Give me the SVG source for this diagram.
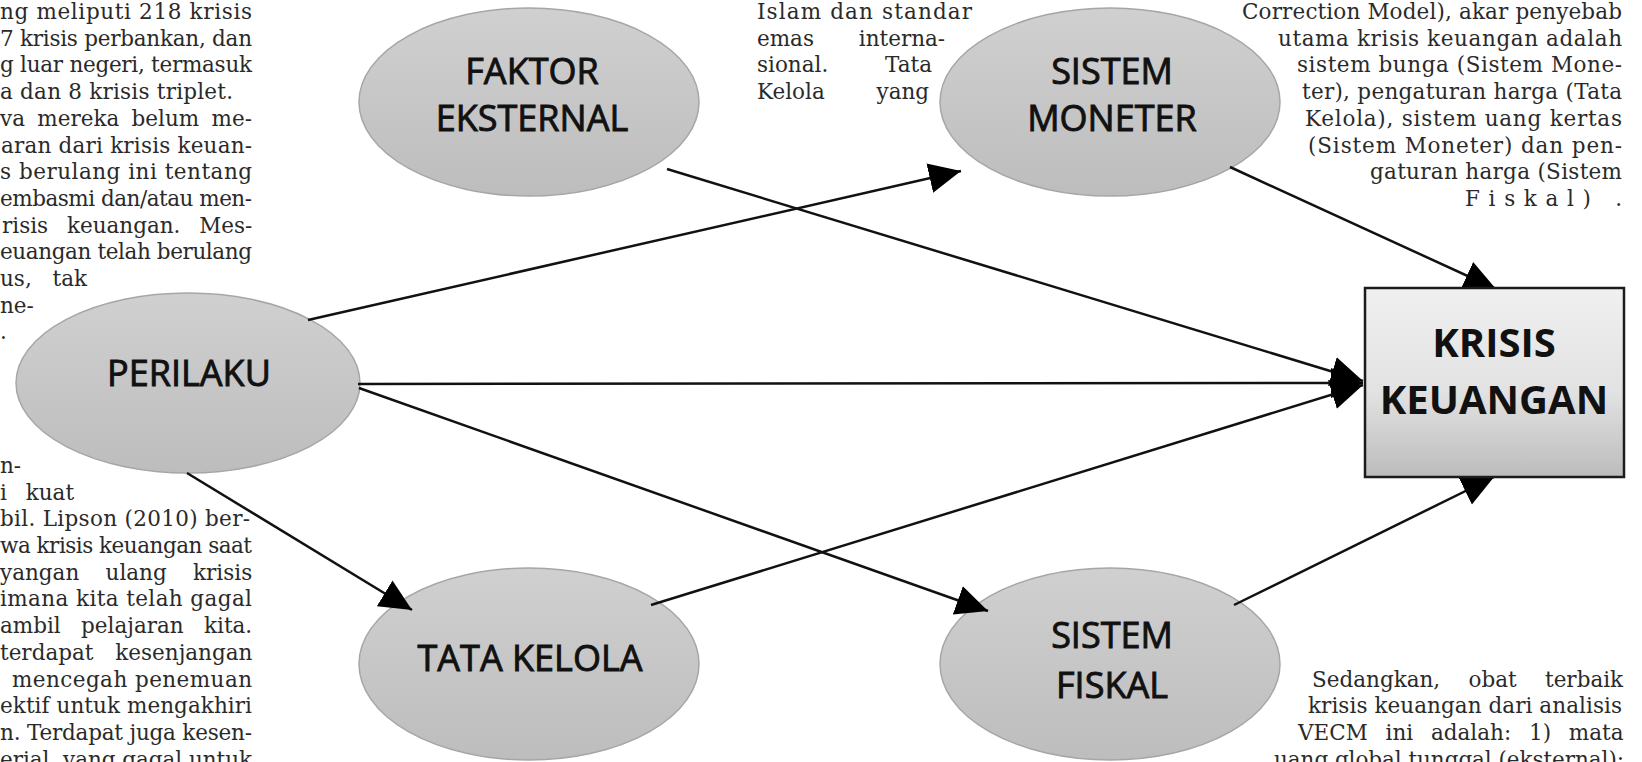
<svg xmlns="http://www.w3.org/2000/svg" width="1642" height="762" viewBox="0 0 1642 762">
<style>
.t{font-family:"DejaVu Serif","Liberation Serif",serif;font-size:21.5px;fill:#2a2a2a}
.lbl{font-family:"Open Sans","Liberation Sans",sans-serif;font-size:36px;fill:#111;stroke:#111;stroke-width:0.9;text-anchor:middle}
.blbl{font-family:"Open Sans","Liberation Sans",sans-serif;font-size:40px;font-weight:bold;fill:#111;text-anchor:middle}
.ell{fill:url(#eg);stroke:#a6a6a6;stroke-width:1.5}
.con{stroke:#111;stroke-width:2.5;fill:none;marker-end:url(#ah)}
</style>
<defs>
<linearGradient id="eg" x1="0" y1="0" x2="0" y2="1">
<stop offset="0" stop-color="#d0d0d0"/>
<stop offset="1" stop-color="#bdbdbd"/>
</linearGradient>
<linearGradient id="rg" x1="0" y1="0" x2="0" y2="1">
<stop offset="0" stop-color="#f0f0f0"/>
<stop offset="0.55" stop-color="#e2e2e2"/>
<stop offset="1" stop-color="#bcbcbc"/>
</linearGradient>
<marker id="ah" markerUnits="userSpaceOnUse" viewBox="0 0 34 32" markerWidth="34" markerHeight="32" refX="32" refY="16" orient="auto">
<path d="M0,1 L32,16 L0,31 z" fill="#000"/>
</marker>
</defs>
<rect width="1642" height="762" fill="#fff"/>

<g id="text-left">
<text class="t" x="0" y="19" textLength="252" lengthAdjust="spacing">ng meliputi 218 krisis</text>
<text class="t" x="0" y="45.7" textLength="252" lengthAdjust="spacing">7 krisis perbankan,  dan</text>
<text class="t" x="0" y="72.4" textLength="252" lengthAdjust="spacing">g luar negeri, termasuk</text>
<text class="t" x="0" y="99.1" textLength="233" lengthAdjust="spacing">a dan 8 krisis triplet.</text>
<text class="t" x="0" y="125.8" word-spacing="5.5">va mereka belum me-</text>
<text class="t" x="1" y="152.5" textLength="251" lengthAdjust="spacing">aran dari krisis keuan-</text>
<text class="t" x="0" y="179.2" textLength="252" lengthAdjust="spacing">s berulang ini tentang</text>
<text class="t" x="0" y="205.9" textLength="252" lengthAdjust="spacing">embasmi dan/atau men-</text>
<text class="t" x="2" y="232.6" word-spacing="12">risis keuangan. Mes-</text>
<text class="t" x="0" y="259.3" textLength="252" lengthAdjust="spacing">euangan telah berulang</text>
<text class="t" x="0" y="286" word-spacing="14">us, tak</text>
<text class="t" x="0" y="312.7">ne-</text>
<text class="t" x="0" y="339.4">.</text>
<text class="t" x="0" y="472.9">n-</text>
<text class="t" x="0" y="499.6" word-spacing="12">i kuat</text>
<text class="t" x="0" y="526.3" textLength="250" lengthAdjust="spacing">bil. Lipson (2010) ber-</text>
<text class="t" x="0" y="553" textLength="252" lengthAdjust="spacing">wa krisis keuangan saat</text>
<text class="t" x="0" y="579.7" word-spacing="19.5">yangan ulang krisis</text>
<text class="t" x="0" y="606.4" textLength="252" lengthAdjust="spacing">imana kita telah gagal</text>
<text class="t" x="0" y="633.1" word-spacing="13.5">ambil pelajaran kita.</text>
<text class="t" x="0" y="659.8" word-spacing="15">terdapat kesenjangan</text>
<text class="t" x="12" y="686.5" textLength="240" lengthAdjust="spacing">mencegah penemuan</text>
<text class="t" x="0" y="713.2" textLength="252" lengthAdjust="spacing">ektif untuk mengakhiri</text>
<text class="t" x="0" y="739.9" textLength="252" lengthAdjust="spacing">n. Terdapat juga kesen-</text>
<text class="t" x="0" y="766.6" textLength="252" lengthAdjust="spacing">erial, yang gagal untuk</text>
</g>

<g id="text-middle">
<text class="t" x="757" y="19" textLength="215" lengthAdjust="spacing">Islam dan standar</text>
<text class="t" x="757" y="45.7" word-spacing="38">emas interna-</text>
<text class="t" x="757" y="72.4" word-spacing="50">sional. Tata</text>
<text class="t" x="757" y="99.1" word-spacing="45">Kelola yang</text>
</g>

<g id="text-right">
<text class="t" x="1242" y="19" textLength="380" lengthAdjust="spacing">Correction Model), akar penyebab</text>
<text class="t" x="1278" y="45.7" textLength="344" lengthAdjust="spacing">utama krisis keuangan adalah</text>
<text class="t" x="1297" y="72.4" textLength="325" lengthAdjust="spacing">sistem bunga (Sistem Mone-</text>
<text class="t" x="1302" y="99.1" textLength="320" lengthAdjust="spacing">ter), pengaturan harga (Tata</text>
<text class="t" x="1305" y="125.8" textLength="317" lengthAdjust="spacing">Kelola), sistem uang kertas</text>
<text class="t" x="1308" y="152.5" textLength="314" lengthAdjust="spacing">(Sistem Moneter) dan pen-</text>
<text class="t" x="1370" y="179.2" textLength="252" lengthAdjust="spacing">gaturan harga (Sistem</text>
<text class="t" x="1465" y="205.9" textLength="157" lengthAdjust="spacing">Fiskal) .</text>
<text class="t" x="1312" y="686.5" word-spacing="21.5">Sedangkan, obat terbaik</text>
<text class="t" x="1308" y="713.2" textLength="314" lengthAdjust="spacing">krisis keuangan dari analisis</text>
<text class="t" x="1298" y="739.9" word-spacing="11">VECM ini adalah: 1) mata</text>
<text class="t" x="1274" y="766.6" textLength="350" lengthAdjust="spacing">uang global tunggal (eksternal);</text>
</g>

<g id="node-faktor-eksternal">
<ellipse class="ell" cx="529" cy="102" rx="170" ry="94"/>
<text class="lbl" x="532" y="84">FAKTOR</text>
<text class="lbl" x="532" y="131">EKSTERNAL</text>
</g>
<g id="node-sistem-moneter">
<ellipse class="ell" cx="1110" cy="102" rx="170" ry="94"/>
<text class="lbl" x="1112" y="84">SISTEM</text>
<text class="lbl" x="1112" y="131">MONETER</text>
</g>
<g id="node-perilaku">
<ellipse class="ell" cx="188" cy="383" rx="172" ry="90"/>
<text class="lbl" x="189" y="386">PERILAKU</text>
</g>
<g id="node-tata-kelola">
<ellipse class="ell" cx="529" cy="664" rx="170" ry="96"/>
<text class="lbl" x="530" y="671">TATA KELOLA</text>
</g>
<g id="node-sistem-fiskal">
<ellipse class="ell" cx="1110" cy="664" rx="170" ry="96"/>
<text class="lbl" x="1112" y="648">SISTEM</text>
<text class="lbl" x="1112" y="698">FISKAL</text>
</g>

<g id="connectors">
<line class="con" x1="667" y1="169" x2="1363" y2="381"/>
<line class="con" x1="308" y1="320" x2="961" y2="171"/>
<line class="con" x1="358" y1="384" x2="1363" y2="383"/>
<line class="con" x1="187" y1="473" x2="412" y2="610"/>
<line class="con" x1="359" y1="388" x2="988" y2="611"/>
<line class="con" x1="651" y1="605" x2="1363" y2="385"/>
<line class="con" x1="1230" y1="167" x2="1496" y2="289"/>
<line class="con" x1="1234" y1="605" x2="1494" y2="477"/>
</g>

<g id="node-krisis-keuangan">
<rect x="1365" y="288" width="259" height="189" fill="url(#rg)" stroke="#1c1c1c" stroke-width="2.5"/>
<text class="blbl" x="1494" y="357">KRISIS</text>
<text class="blbl" x="1494" y="414">KEUANGAN</text>
</g>
</svg>
